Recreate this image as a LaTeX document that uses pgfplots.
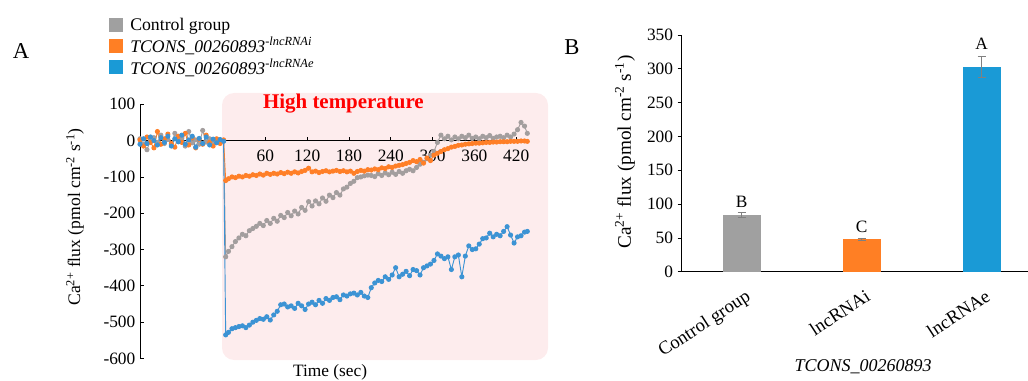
\documentclass[border=0pt]{standalone}
\usepackage{pgfplots}
\pgfplotsset{compat=1.18}
\usepackage{pgfplotstable}
\usepackage{fontspec}
\setmainfont{Liberation Serif}
\definecolor{cgray}{RGB}{163,158,158}
\definecolor{corange}{RGB}{255,127,39}
\definecolor{cblue}{RGB}{60,147,212}
\definecolor{bgray}{RGB}{160,160,160}
\definecolor{borange}{RGB}{255,127,36}
\definecolor{bblue}{RGB}{26,154,214}
\definecolor{pinkbg}{RGB}{253,236,237}

\pgfplotstableread{
t v
-120 5
-115 -10
-110 -25
-105 0
-100 8
-95 -5
-90 15
-85 -8
-80 3
-75 -12
-70 20
-65 -3
-60 6
-55 -15
-50 25
-45 -6
-40 2
-35 -10
-30 28
-25 -4
-20 5
-15 -8
-10 3
-5 -5
0 0
3 -320
7 -305
12 -292
17 -278
22 -268
27 -258
32 -262
37 -248
42 -242
47 -236
52 -228
57 -234
62 -220
67 -228
72 -214
77 -222
82 -206
87 -212
92 -198
97 -207
102 -194
107 -202
112 -184
117 -192
122 -168
127 -180
132 -166
137 -174
142 -158
147 -167
152 -150
157 -157
162 -143
167 -150
172 -133
177 -128
182 -118
187 -112
192 -102
197 -100
202 -97
207 -95
212 -96
217 -99
222 -91
227 -96
232 -89
237 -94
242 -87
247 -93
252 -85
257 -90
262 -83
267 -79
272 -83
277 -74
282 -65
287 -60
292 -50
297 -40
302 -30
307 -5
312 15
317 5
322 12
327 2
332 10
337 5
342 12
347 8
352 15
357 6
362 10
367 5
372 12
377 8
382 14
387 6
392 10
397 12
402 8
407 15
412 10
417 18
422 30
427 50
432 40
436 20
}\graydata

\pgfplotstableread{
t v
-120 2
-115 -15
-110 10
-105 -5
-100 -20
-95 25
-90 -10
-85 5
-80 18
-75 -8
-70 -18
-65 12
-60 -5
-55 20
-50 -12
-45 8
-40 -20
-35 4
-30 -10
-25 15
-20 -5
-15 -15
-10 5
-5 -8
0 2
3 -110
7 -105
12 -100
17 -102
22 -98
27 -100
32 -96
37 -98
42 -94
47 -96
52 -92
57 -95
62 -90
67 -93
72 -90
77 -92
82 -88
87 -91
92 -87
97 -90
102 -86
107 -89
112 -85
117 -82
122 -76
127 -86
132 -84
137 -88
142 -85
147 -83
152 -86
157 -84
162 -82
167 -85
172 -83
177 -86
182 -84
187 -90
192 -85
197 -82
202 -84
207 -80
212 -81
217 -78
222 -80
227 -75
232 -77
237 -72
242 -74
247 -70
252 -68
257 -66
262 -63
267 -60
272 -55
277 -58
282 -52
287 -62
292 -48
297 -55
302 -40
307 -35
312 -30
317 -25
322 -22
327 -18
332 -16
337 -13
342 -12
347 -10
352 -9
357 -8
362 -7
367 -7
372 -6
377 -5
382 -5
387 -4
392 -4
397 -3
402 -3
407 -3
412 -2
417 -2
422 -2
427 -1
432 -1
436 -2
}\orangedata

\pgfplotstableread{
t v
-120 -10
-115 5
-110 -8
-105 10
-100 0
-95 -12
-90 8
-85 -5
-80 12
-75 -15
-70 5
-65 -3
-60 15
-55 -10
-50 2
-45 12
-40 -18
-35 6
-30 -8
-25 10
-20 -12
-15 4
-10 -6
-5 3
0 -2
3 -535
7 -528
12 -518
17 -515
22 -512
27 -510
32 -515
37 -508
42 -500
47 -495
52 -490
57 -492
62 -485
67 -494
72 -480
77 -470
82 -452
87 -450
92 -458
97 -455
102 -462
107 -448
112 -455
117 -465
122 -450
127 -445
132 -452
137 -440
142 -448
147 -435
152 -440
157 -432
162 -430
167 -438
172 -425
177 -428
182 -422
187 -420
192 -425
197 -418
202 -428
207 -432
212 -405
217 -392
222 -385
227 -388
232 -375
237 -382
242 -370
247 -350
252 -375
257 -368
262 -360
267 -372
272 -355
277 -358
282 -370
287 -350
292 -345
297 -340
302 -330
307 -312
312 -318
317 -325
322 -320
327 -355
332 -320
337 -315
342 -375
347 -318
352 -290
357 -300
362 -298
367 -285
372 -270
377 -268
382 -255
387 -265
392 -258
397 -262
402 -250
407 -237
412 -260
417 -282
422 -265
427 -262
432 -252
436 -250
}\bluedata

\begin{document}
\begin{tikzpicture}
\path[use as bounding box] (0pt,0pt) rectangle (771pt,-285.75pt);
\fill[pinkbg, rounded corners=9pt] (166.5pt,-69.75pt) rectangle (411pt,-270pt);
\node[font=\fontsize{17}{20}\selectfont] at (15.75pt,-38.25pt) {A};
\node[font=\fontsize{17}{20}\selectfont] at (429pt,-35.25pt) {B};

\begin{axis}[
  at={(105pt,-268.875pt)}, anchor=south west,
  scale only axis, width=291pt, height=190.65pt,
  xmin=-120, xmax=437, ymin=-600, ymax=100,
  axis x line=middle, axis y line=left,
  axis line style={-, black, line width=0.6pt},
  xtick={60,120,...,420}, ytick={-600,-500,...,100},
  x tick style={black, line width=0.6pt, yshift=1.5pt},
  y tick style={black, line width=0.6pt},
  major tick length=3pt,
  ytick align=inside,
  /pgf/number format/assume math mode=true,
  tick label style={font=\fontsize{13}{15}\selectfont},
  x tick label style={yshift=-2pt},
  clip=false,
  legend style={at={(-0.08,1.345)}, anchor=north west, draw=none, fill=none,
    inner sep=0pt, row sep=1.2pt, font=\fontsize{13.3}{15.75}\selectfont,
    nodes={inner sep=1pt}},
  legend cell align=left,
  every axis plot/.append style={line width=0.7pt, mark=*, mark size=1.55pt},
]
\addlegendimage{only marks, mark=square*, mark size=4.9pt, color=bgray}
\addlegendentry{\hspace{5pt}Control group}
\addlegendimage{only marks, mark=square*, mark size=4.9pt, color=borange}
\addlegendentry{\hspace{5pt}\textit{TCONS\_00260893}\textsuperscript{\itshape -lncRNAi}}
\addlegendimage{only marks, mark=square*, mark size=4.9pt, color=bblue}
\addlegendentry{\hspace{5pt}\textit{TCONS\_00260893}\textsuperscript{\itshape -lncRNAe}}
\addplot[color=cgray, forget plot] table[x=t, y=v] {\graydata};
\addplot[color=corange, forget plot] table[x=t, y=v] {\orangedata};
\addplot[color=cblue, forget plot] table[x=t, y=v] {\bluedata};
\node[font=\fontsize{15.7}{18}\selectfont\bfseries, text=red] at (axis cs:172,103) {High temperature};
\node[font=\fontsize{13}{15}\selectfont] at (rel axis cs:0.49,-0.053) {Time (sec)};
\node[font=\fontsize{13.2}{15}\selectfont, rotate=90] at (rel axis cs:-0.1675,0.557) {Ca\textsuperscript{2+} flux (pmol cm\textsuperscript{-2} s\textsuperscript{-1})};
\end{axis}

\begin{axis}[
  at={(511.3pt,-203.8pt)}, anchor=south west,
  scale only axis, width=259.7pt, height=177.5pt,
  xmin=-0.5, xmax=2.386, ymin=0, ymax=350,
  axis x line=bottom, axis y line=left,
  axis line style={-, black, line width=0.6pt},
  ytick={0,50,...,350},
  xtick={0,1,2},
  xticklabels={Control group, lncRNAi, lncRNAe},
  x tick style={draw=none},
  y tick style={black, line width=0.6pt},
  major tick length=3pt,
  ytick align=outside,
  /pgf/number format/assume math mode=true,
  y tick label style={font=\fontsize{13}{15}\selectfont},
  x tick label style={font=\fontsize{14}{16}\selectfont, xshift=2pt, yshift=-9.5pt, rotate=33, anchor=north east, inner sep=0pt},
  clip=false,
  ybar, bar width=28.3pt,
]
\addplot[fill=bgray, draw=none, bar shift=0pt, error bars/.cd, y dir=both, y explicit, error bar style={color=gray, line width=0.6pt}, error mark options={rotate=90, mark size=3pt, color=gray}] coordinates {(0,84) +- (0,4)};
\addplot[fill=borange, draw=none, bar shift=0pt, error bars/.cd, y dir=both, y explicit, error bar style={color=gray, line width=0.6pt}, error mark options={rotate=90, mark size=3pt, color=gray}] coordinates {(1,48) +- (0,2)};
\addplot[fill=bblue, draw=none, bar shift=0pt, error bars/.cd, y dir=both, y explicit, error bar style={color=gray, line width=0.6pt}, error mark options={rotate=90, mark size=3pt, color=gray}] coordinates {(2,303) +- (0,15)};
\node[anchor=south, font=\fontsize{13}{15}\selectfont, inner sep=0pt] at (axis cs:0,94) {B};
\node[anchor=south, font=\fontsize{13}{15}\selectfont, inner sep=0pt] at (axis cs:1,57) {C};
\node[anchor=south, font=\fontsize{13}{15}\selectfont, inner sep=0pt] at (axis cs:2,329) {A};
\node[font=\fontsize{13.5}{15}\selectfont\itshape] at (rel axis cs:0.5235,-0.4026) {TCONS\_00260893};
\node[font=\fontsize{14.4}{16}\selectfont, rotate=90] at (rel axis cs:-0.1637,0.5057) {Ca\textsuperscript{2+} flux (pmol cm\textsuperscript{-2} s\textsuperscript{-1})};
\end{axis}
\end{tikzpicture}
\end{document}
